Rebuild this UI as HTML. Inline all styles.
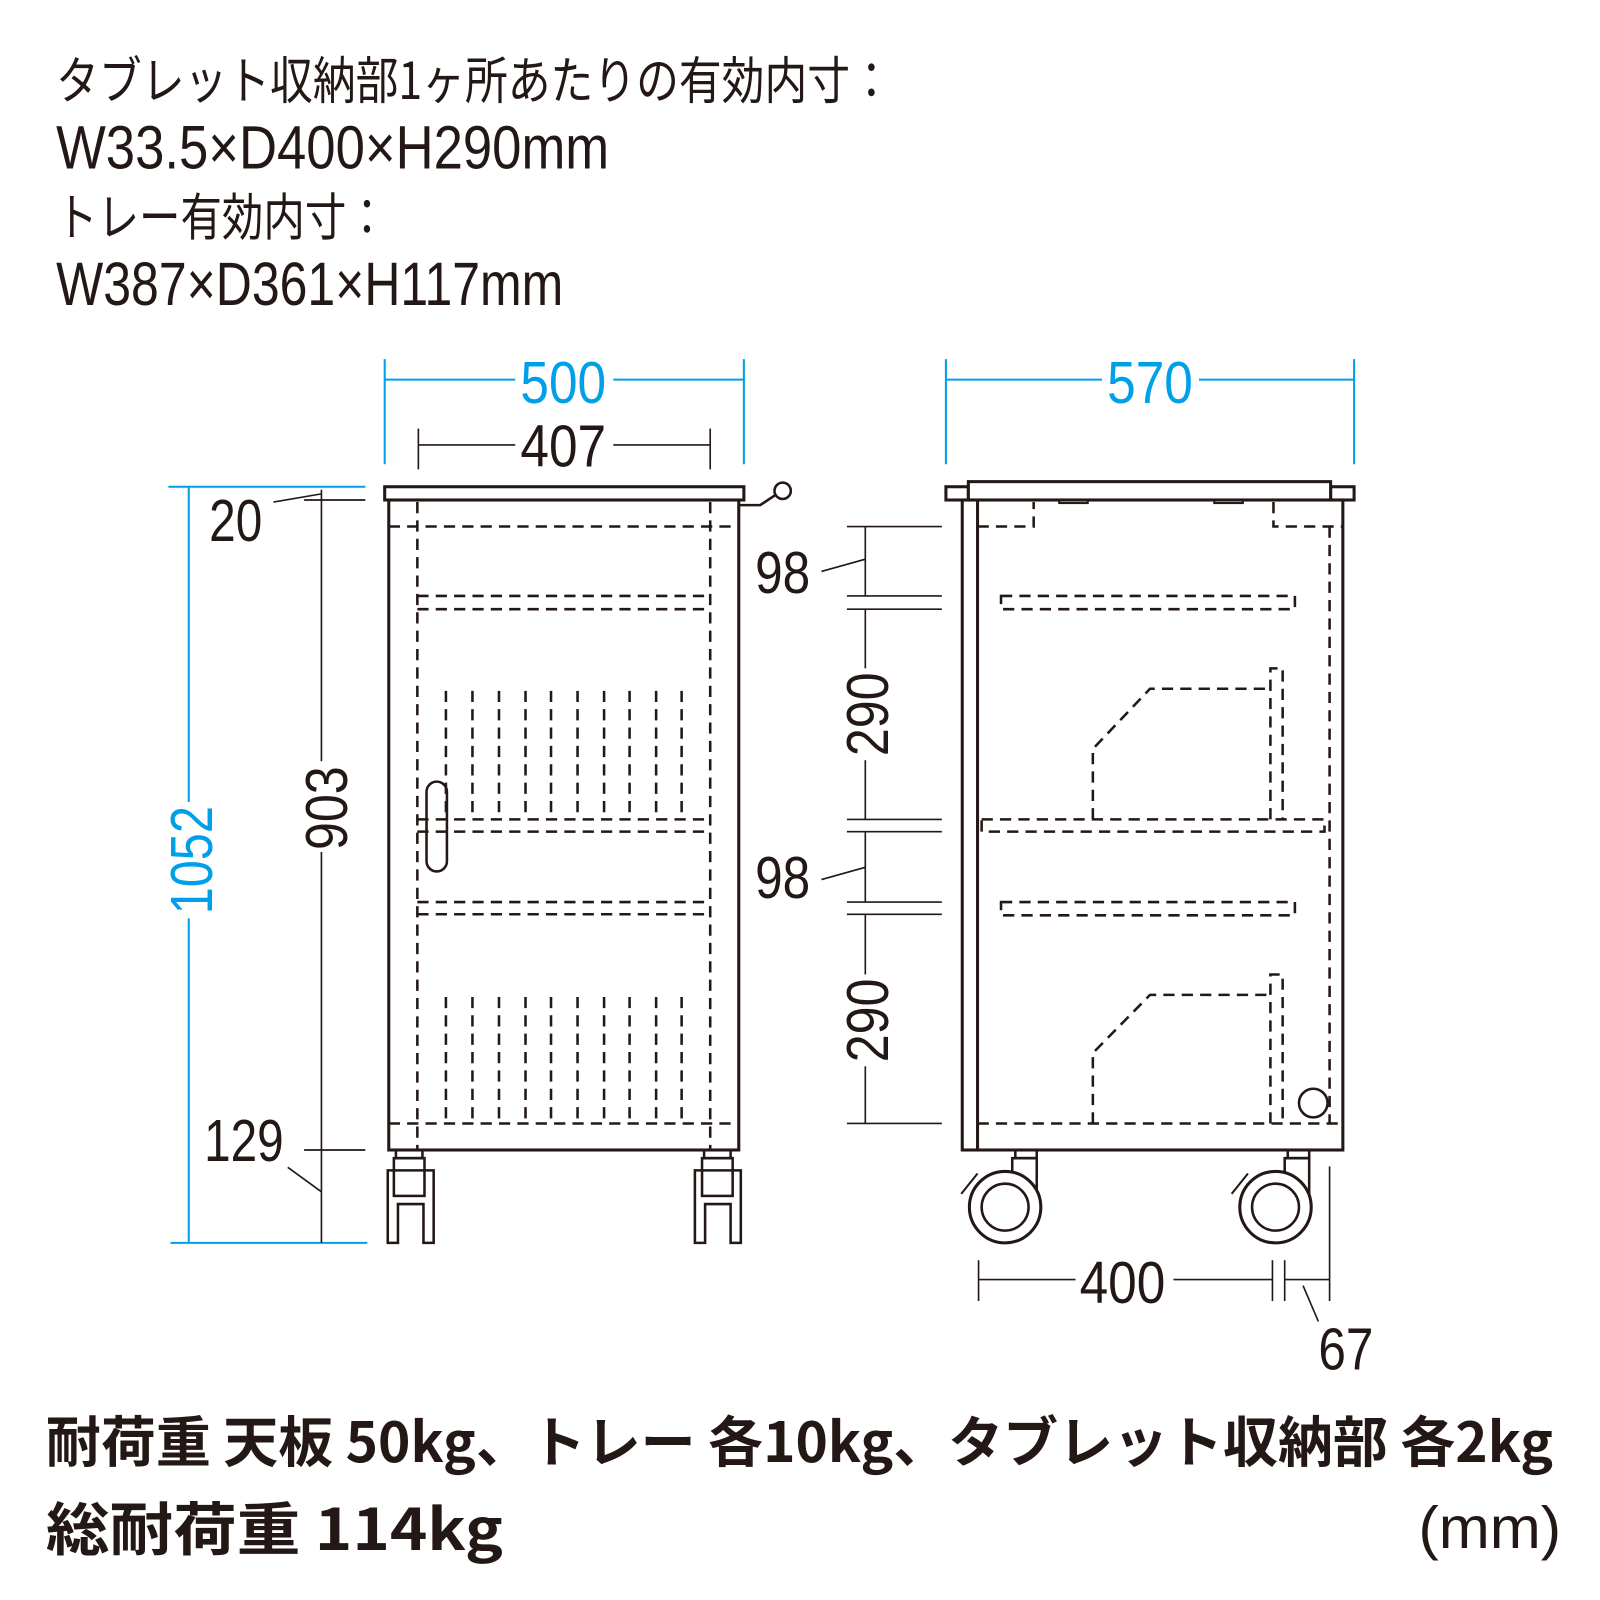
<!DOCTYPE html>
<html><head><meta charset="utf-8"><style>
html,body{margin:0;padding:0;background:#fff;}
svg{display:block}
.t{font-family:"Liberation Sans","Noto Sans CJK JP",sans-serif;}
</style></head><body>
<svg width="1600" height="1600" viewBox="0 0 1568 1568" xmlns="http://www.w3.org/2000/svg">
<g class="t" fill="#231815">
<text x="55" y="97" font-family="Noto Sans CJK JP, sans-serif" font-size="50" textLength="820" lengthAdjust="spacingAndGlyphs">タブレット収納部1ヶ所あたりの有効内寸：</text>
<text x="55" y="165" font-size="60" textLength="542" lengthAdjust="spacingAndGlyphs">W33.5×D400×H290mm</text>
<text x="55" y="231" font-family="Noto Sans CJK JP, sans-serif" font-size="50" textLength="325" lengthAdjust="spacingAndGlyphs">トレー有効内寸：</text>
<text x="55" y="299" font-size="60" textLength="497" lengthAdjust="spacingAndGlyphs">W387×D361×H117mm</text>
<text x="45" y="1433" font-family="Noto Sans CJK JP, sans-serif" font-weight="bold" font-size="54" textLength="1477" lengthAdjust="spacingAndGlyphs">耐荷重 天板 50kg、トレー 各10kg、タブレット収納部 各2kg</text>
<text x="45" y="1519" font-family="Noto Sans CJK JP, sans-serif" font-weight="bold" font-size="56" textLength="448" lengthAdjust="spacingAndGlyphs">総耐荷重 114kg</text>
<text x="1390" y="1517" font-size="58" textLength="140" lengthAdjust="spacingAndGlyphs">(mm)</text>
</g>

<g stroke="#00a0e9" stroke-width="2" fill="none">
<line x1="377" y1="352" x2="377" y2="455"/><line x1="729" y1="352" x2="729" y2="455"/>
<line x1="377" y1="372" x2="505" y2="372"/><line x1="601" y1="372" x2="729" y2="372"/>
<line x1="927" y1="352" x2="927" y2="455"/><line x1="1327" y1="352" x2="1327" y2="455"/>
<line x1="927" y1="372" x2="1080" y2="372"/><line x1="1175" y1="372" x2="1327" y2="372"/>
<line x1="165" y1="477" x2="358" y2="477"/><line x1="167" y1="1218" x2="360" y2="1218"/>
<line x1="185" y1="477" x2="185" y2="786"/><line x1="185" y1="900" x2="185" y2="1218"/>
</g>
<g class="t" fill="#00a0e9" font-size="58">
<text x="552" y="395" text-anchor="middle" textLength="84" lengthAdjust="spacingAndGlyphs">500</text>
<text x="1127" y="395" text-anchor="middle" textLength="84" lengthAdjust="spacingAndGlyphs">570</text>
<text transform="translate(208,843) rotate(-90)" text-anchor="middle" textLength="106" lengthAdjust="spacingAndGlyphs">1052</text>
</g>

<g stroke="#231815" stroke-width="1.6" fill="none">
<line x1="410" y1="420" x2="410" y2="460"/><line x1="696" y1="420" x2="696" y2="460"/>
<line x1="410" y1="436" x2="505" y2="436"/><line x1="601" y1="436" x2="696" y2="436"/>
<line x1="315" y1="480" x2="315" y2="746"/><line x1="315" y1="835" x2="315" y2="1218"/>
<line x1="298" y1="490" x2="358" y2="490"/><line x1="298" y1="1127" x2="358" y2="1127"/>
<line x1="268" y1="492" x2="315" y2="484"/>
<line x1="282" y1="1144" x2="315" y2="1168"/>
<line x1="848" y1="516" x2="848" y2="584"/>
<line x1="848" y1="597" x2="848" y2="655"/>
<line x1="848" y1="745" x2="848" y2="803"/>
<line x1="848" y1="815" x2="848" y2="884"/>
<line x1="848" y1="896" x2="848" y2="955"/>
<line x1="848" y1="1045" x2="848" y2="1101"/>
<line x1="830" y1="516" x2="923" y2="516"/>
<line x1="830" y1="584" x2="923" y2="584"/><line x1="830" y1="597" x2="923" y2="597"/>
<line x1="830" y1="803" x2="923" y2="803"/><line x1="830" y1="815" x2="923" y2="815"/>
<line x1="830" y1="884" x2="923" y2="884"/><line x1="830" y1="896" x2="923" y2="896"/>
<line x1="830" y1="1101" x2="923" y2="1101"/>
<line x1="805" y1="560" x2="848" y2="548"/>
<line x1="805" y1="862" x2="848" y2="850"/>
<line x1="959" y1="1235" x2="959" y2="1275"/>
<line x1="1247" y1="1235" x2="1247" y2="1275"/>
<line x1="1259" y1="1235" x2="1259" y2="1275"/>
<line x1="1303" y1="1143" x2="1303" y2="1275"/>
<line x1="959" y1="1254" x2="1054" y2="1254"/><line x1="1150" y1="1254" x2="1247" y2="1254"/>
<line x1="1259" y1="1254" x2="1303" y2="1254"/>
<line x1="1277" y1="1260" x2="1292" y2="1295"/>
</g>
<g class="t" fill="#231815" font-size="58">
<text x="552" y="457" text-anchor="middle" textLength="84" lengthAdjust="spacingAndGlyphs">407</text>
<text x="205" y="530" textLength="52" lengthAdjust="spacingAndGlyphs">20</text>
<text x="200" y="1138" textLength="78" lengthAdjust="spacingAndGlyphs">129</text>
<text transform="translate(340,792) rotate(-90)" text-anchor="middle" textLength="82" lengthAdjust="spacingAndGlyphs">903</text>
<text x="740" y="581" textLength="54" lengthAdjust="spacingAndGlyphs">98</text>
<text x="740" y="880" textLength="54" lengthAdjust="spacingAndGlyphs">98</text>
<text transform="translate(870,700) rotate(-90)" text-anchor="middle" textLength="82" lengthAdjust="spacingAndGlyphs">290</text>
<text transform="translate(870,1000) rotate(-90)" text-anchor="middle" textLength="82" lengthAdjust="spacingAndGlyphs">290</text>
<text x="1100" y="1277" text-anchor="middle" textLength="84" lengthAdjust="spacingAndGlyphs">400</text>
<text x="1292" y="1342" textLength="54" lengthAdjust="spacingAndGlyphs">67</text>
</g>

<g stroke="#231815" fill="none" stroke-width="3">
<rect x="377" y="477" width="352" height="13" fill="#fff"/>
<rect x="381" y="490" width="343" height="637"/>
<polyline points="724,495 745,495 760,485" stroke-width="2.5"/>
<circle cx="767" cy="481" r="8" stroke-width="2.5"/>
<rect x="418" y="766" width="20" height="88" rx="10" stroke-width="2.5"/>
<rect x="388" y="1127" width="26" height="8" stroke-width="2.5"/>
<rect x="386" y="1135" width="30" height="37" stroke-width="2.5"/>
<path d="M380,1218 V1147 H425 V1218 H415 V1180 H390 V1218 Z" stroke-width="2.5"/>
<rect x="690" y="1127" width="26" height="8" stroke-width="2.5"/>
<rect x="688" y="1135" width="30" height="37" stroke-width="2.5"/>
<path d="M681,1218 V1147 H726 V1218 H716 V1180 H691 V1218 Z" stroke-width="2.5"/>
</g>
<g stroke="#231815" fill="none" stroke-width="2.5" stroke-dasharray="11,7">
<line x1="381" y1="516" x2="724" y2="516"/>
<line x1="409" y1="492" x2="409" y2="1127"/>
<line x1="696" y1="492" x2="696" y2="1127"/>
<line x1="409" y1="584" x2="696" y2="584"/><line x1="409" y1="597" x2="696" y2="597"/>
<line x1="409" y1="803" x2="696" y2="803"/><line x1="409" y1="815" x2="696" y2="815"/>
<line x1="409" y1="884" x2="696" y2="884"/><line x1="409" y1="896" x2="696" y2="896"/>
<line x1="381" y1="1101" x2="724" y2="1101"/>
<path d="M437,677V803 M463,677V803 M489,677V803 M515,677V803 M540,677V803 M566,677V803 M592,677V803 M617,677V803 M643,677V803 M668,677V803"/>
<path d="M437,977V1101 M463,977V1101 M489,977V1101 M515,977V1101 M540,977V1101 M566,977V1101 M592,977V1101 M617,977V1101 M643,977V1101 M668,977V1101"/>
</g>

<g stroke="#231815" fill="none" stroke-width="3">
<rect x="927" y="477" width="22" height="13" fill="#fff"/>
<rect x="1304" y="477" width="23" height="13" fill="#fff"/>
<rect x="949" y="472" width="355" height="18" fill="#fff"/>
<rect x="943" y="490" width="373" height="637"/>
<line x1="958" y1="490" x2="958" y2="1127"/>
<rect x="1038" y="490" width="28" height="3" stroke-width="2"/>
<rect x="1190" y="490" width="28" height="3" stroke-width="2"/>
<circle cx="1287" cy="1081" r="14" stroke-width="2.5"/>
<rect x="995" y="1127" width="21" height="8" stroke-width="2.5"/>
<path d="M992,1165 V1135 H1016 V1175" stroke-width="2.5"/>
<circle cx="985" cy="1183" r="35" fill="#fff"/>
<circle cx="985" cy="1183" r="23" stroke-width="2.5"/>
<path d="M958,1150 Q950,1160 942,1170" stroke-width="2"/>
<rect x="1262" y="1127" width="21" height="8" stroke-width="2.5"/>
<path d="M1259,1165 V1135 H1283 V1175" stroke-width="2.5"/>
<circle cx="1250" cy="1183" r="35" fill="#fff"/>
<circle cx="1250" cy="1183" r="23" stroke-width="2.5"/>
<path d="M1223,1150 Q1215,1160 1207,1170" stroke-width="2"/>
</g>
<g stroke="#231815" fill="none" stroke-width="2.5" stroke-dasharray="11,7">
<polyline points="958,516 1013,516 1013,492"/>
<polyline points="1248,492 1248,516 1316,516"/>
<line x1="1303" y1="516" x2="1303" y2="1101"/>
<line x1="958" y1="1101" x2="1316" y2="1101"/>
<rect x="981" y="584" width="288" height="13"/>
<rect x="981" y="884" width="288" height="13"/>
<rect x="962" y="803" width="336" height="12"/>
<polyline points="1071,803 1071,734 1127,675 1245,675"/>
<polyline points="1245,803 1245,655 1257,655 1257,803"/>
<polyline points="1071,1101 1071,1032 1127,975 1245,975"/>
<polyline points="1245,1101 1245,955 1257,955 1257,1101"/>
</g>
</svg>
</body></html>
